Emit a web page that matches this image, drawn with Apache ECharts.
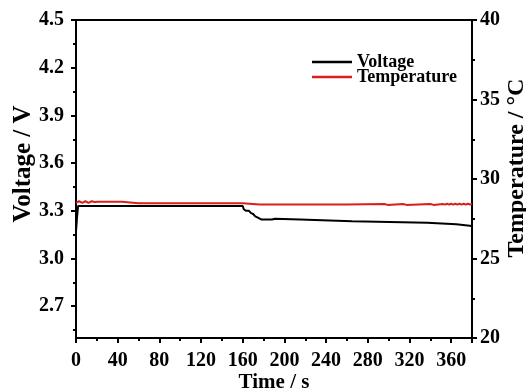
<!DOCTYPE html>
<html>
<head>
<meta charset="utf-8">
<script src="https://cdn.jsdelivr.net/npm/echarts@6/dist/echarts.min.js"></script>
<style>html,body{margin:0;padding:0;background:#fff}#c{width:526px;height:391px}</style>
</head>
<body>
<div id="c"></div>
<script>
// Voltage (V) vs time (s)
const vTime = [0, 1, 2, 160, 161, 163, 166, 168, 170, 172, 175, 178, 188, 189, 191, 192, 215, 216, 265, 266, 337, 338, 365, 366, 380];
const vVal  = [3.17, 3.26, 3.33, 3.33, 3.31, 3.30, 3.30, 3.285, 3.28, 3.265, 3.255, 3.245, 3.245, 3.25, 3.25, 3.245, 3.245, 3.235, 3.235, 3.225, 3.225, 3.215, 3.215, 3.205, 3.205];
// Temperature (°C) vs time (s)
const tTime = [0, 3, 6, 9, 12, 15, 18, 21, 44, 45, 60, 61, 62, 80, 81, 82, 100, 101, 102, 115, 116, 117, 127, 128, 129, 132, 133, 134, 144, 145, 146, 160, 161, 176, 177, 178, 192, 193, 194, 196, 197, 198, 236, 237, 238, 260, 261, 296, 297, 299, 300, 314, 315, 317, 318, 340, 341, 343, 344, 352, 354, 356, 358, 360, 362, 364, 366, 368, 370, 372, 374, 376, 378, 380];
const tVal  = [28.5, 28.6, 28.5, 28.6, 28.5, 28.6, 28.55, 28.57, 28.57, 28.47, 28.47, 28.52, 28.47, 28.47, 28.52, 28.47, 28.47, 28.52, 28.47, 28.47, 28.52, 28.47, 28.47, 28.52, 28.47, 28.47, 28.52, 28.47, 28.47, 28.52, 28.47, 28.47, 28.4, 28.4, 28.45, 28.4, 28.4, 28.45, 28.4, 28.4, 28.45, 28.4, 28.4, 28.45, 28.4, 28.4, 28.43, 28.43, 28.37, 28.37, 28.43, 28.43, 28.37, 28.37, 28.43, 28.43, 28.37, 28.37, 28.43, 28.43, 28.39, 28.44, 28.39, 28.44, 28.39, 28.44, 28.39, 28.44, 28.39, 28.44, 28.39, 28.44, 28.4, 28.43];
// Axis tick labels
const voltTicks = [2.7, 3.0, 3.3, 3.6, 3.9, 4.2, 4.5];
const voltMinorTicks = [2.55, 2.85, 3.15, 3.45, 3.75, 4.05, 4.35];

const FONT = "'Liberation Serif', 'Times New Roman', serif";
const txt = {fontFamily: FONT, fontWeight: 'bold', color: '#000'};

const chart = echarts.init(document.getElementById('c'), null, {renderer: 'canvas'});
chart.setOption({
  animation: false,
  backgroundColor: '#fff',
  grid: {left: 76, right: 54, top: 20, bottom: 53, outerBoundsMode: 'none', containLabel: false,
         show: true, borderColor: '#000', borderWidth: 2, backgroundColor: 'transparent'},
  legend: {
    orient: 'vertical', left: 312, top: 53, padding: 0, itemWidth: 40, itemHeight: 2.5, itemGap: -3,
    icon: 'rect',
    textStyle: Object.assign({fontSize: 18}, txt),
    data: ['Voltage', 'Temperature']
  },
  xAxis: {
    type: 'value', min: 0, max: 380, interval: 40,
    name: 'Time / s', nameLocation: 'middle', nameGap: 34, nameMoveOverlap: false,
    nameTextStyle: Object.assign({fontSize: 21}, txt),
    axisLine: {show: true, lineStyle: {color: '#000', width: 2}},
    axisTick: {show: true, length: 5, lineStyle: {color: '#000', width: 2}},
    minorTick: {show: true, splitNumber: 2, length: 3, lineStyle: {color: '#000', width: 2}},
    axisLabel: Object.assign({fontSize: 20, margin: 13, showMaxLabel: false}, txt),
    splitLine: {show: false}
  },
  yAxis: [
    {
      type: 'value', min: 2.5, max: 4.5, position: 'left',
      name: 'Voltage / V', nameLocation: 'middle', nameGap: 40, nameMoveOverlap: false,
      nameTextStyle: Object.assign({fontSize: 25, padding: [0, 0, 0, 30]}, txt),
      axisLine: {show: true, lineStyle: {color: '#000', width: 2}},
      axisTick: {show: true, length: 5, customValues: voltTicks, lineStyle: {color: '#000', width: 2}},
      axisLabel: Object.assign({fontSize: 20, margin: 12, customValues: voltTicks, formatter: v => v.toFixed(1)}, txt),
      splitLine: {show: false}
    },
    {
      type: 'value', min: 20, max: 40, interval: 5, position: 'right',
      name: 'Temperature / °C', nameLocation: 'middle', nameGap: 33, nameRotate: 90, nameMoveOverlap: false,
      nameTextStyle: Object.assign({fontSize: 24, padding: [0, 0, 0, 22]}, txt),
      axisLine: {show: true, lineStyle: {color: '#000', width: 2}},
      axisTick: {show: true, length: 5, lineStyle: {color: '#000', width: 2}},
      minorTick: {show: true, splitNumber: 2, length: 3, lineStyle: {color: '#000', width: 2}},
      axisLabel: Object.assign({fontSize: 20, margin: 8}, txt),
      splitLine: {show: false}
    },
    {
      type: 'value', min: 2.5, max: 4.5, position: 'left',
      axisLine: {show: false},
      axisTick: {show: true, length: 3, customValues: voltMinorTicks, lineStyle: {color: '#000', width: 2}},
      axisLabel: {show: false},
      splitLine: {show: false}
    }
  ],
  series: [
    {
      name: 'Voltage', type: 'line', yAxisIndex: 0, symbol: 'none',
      lineStyle: {color: '#000', width: 2}, itemStyle: {color: '#000'},
      data: vTime.map((t, i) => [t, vVal[i]])
    },
    {
      name: 'Temperature', type: 'line', yAxisIndex: 1, symbol: 'none',
      lineStyle: {color: '#d81e1e', width: 2}, itemStyle: {color: '#d81e1e'},
      data: tTime.map((t, i) => [t, tVal[i]])
    }
  ]
});
</script>
</body>
</html>
